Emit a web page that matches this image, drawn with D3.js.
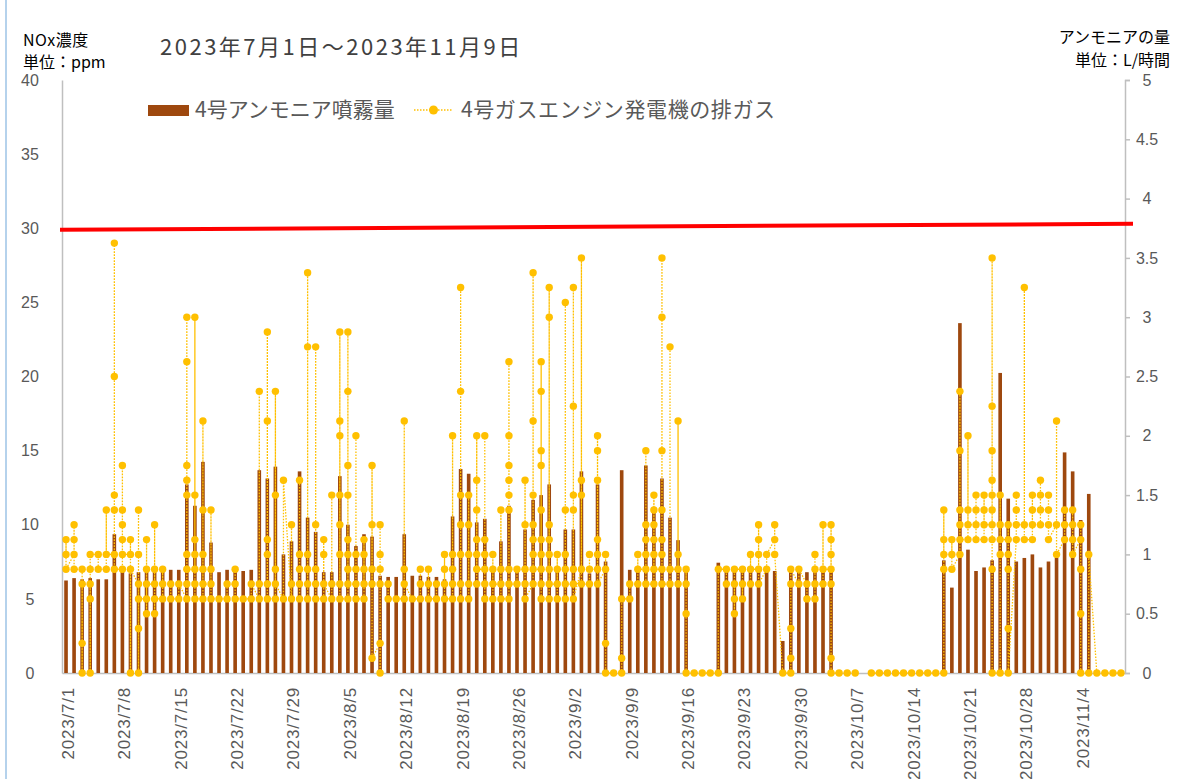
<!DOCTYPE html>
<html>
<head>
<meta charset="utf-8">
<script src="https://cdn.jsdelivr.net/npm/d3@7"></script>
<style>
  body { margin: 0; background: #fff; }
  svg { display: block; font-family: "Noto Sans CJK JP", "Noto Sans", sans-serif; }
</style>
</head>
<body>
<svg id="chart" width="1187" height="779"></svg>
<script>
// 2023/7/1 .. 2023/11/9
const startDay = new Date(2023, 6, 1)
const endDay = new Date(2023, 10, 10)
const days = d3.timeDay.range(startDay, endDay)
const dayLabels = days.map(d => d3.timeFormat("%Y/%-m/%-d")(d))
const tickEvery = 7

const leftTicks = [0, 5, 10, 15, 20, 25, 30, 35, 40]
const rightTicks = [0, 0.5, 1, 1.5, 2, 2.5, 3, 3.5, 4, 4.5, 5]

// 4号アンモニア噴霧量 (L/時間)
const ammonia = [
  0.78, 0.80, 0.79, 0.80, 0.79, 0.79, 1.17, 0.87, 0.84, 0.85,
  0.85, 0.85, 0.87, 0.87, 0.87, 1.59, 1.41, 1.78, 1.10, 0.85,
  0.87, 0.86, 0.86, 0.87, 1.71, 1.64, 1.74, 1.00, 1.11, 1.70,
  1.31, 1.19, 0.85, 0.85, 1.66, 1.25, 1.07, 1.17, 1.15, 0.82,
  0.81, 0.81, 1.17, 0.82, 0.82, 0.81, 0.81, 0.79, 1.32, 1.72,
  1.68, 1.27, 1.30, 0.87, 1.11, 1.41, 0.87, 1.21, 1.46, 1.50,
  1.59, 0.87, 1.21, 1.21, 1.70, 0.84, 1.59, 0.94, 0, 1.71,
  0.87, 0.87, 1.75, 1.37, 1.64, 1.31, 1.12, 0.87, 0, 0,
  0, 0.93, 0.87, 0.87, 0.87, 0.87, 0.87, 0.86, 0.86, 0.27,
  0.87, 0.87, 0.85, 0.87, 0.87, 0.87, 0, 0, 0, 0,
  0, 0, 0, 0, 0, 0, 0, 0, 0, 0.95,
  0.72, 2.95, 1.04, 0.86, 0.89, 0.95, 2.53, 1.47, 0.94, 0.97,
  1.00, 0.89, 0.94, 0.97, 1.86, 1.70, 1.29, 1.51, 0, 0,
  0, 0
]

// 4号ガスエンジン発電機の排ガス NOx (ppm), readings of each day in order
const noxReadings = [
  [8,9,7], [8,10,9,7], [7,0,2,6], [6,0,5,7,8], [8,7], [7,11,8],
  [8,29,20,12,11,7], [7,14,11,10,9,8], [8,9,0,7], [6,0,3,11,8,5],
  [5,9,7,4,6], [6,10,7,4,5], [5,7,6], [6,5], [5,6],
  [5,6,24,21,14,13,12,8,7], [7,24,12,9,8,6,5], [5,17,11,8,7,6], [6,11,7,5], [5],
  [5,6], [6,7,5], [5], [5,6], [5,19,6],
  [6,23,17,9,8,5], [5,19,12,7,6], [5,13], [5,10,6], [6,13,8,7,5],
  [5,27,22,8,7,6], [6,22,10,7,5], [5,9,8,6], [5,12,6], [6,23,17,16,12,10,8,5],
  [5,23,19,14,12,9,8,7,6], [6,16,8,7,5], [5,9,8,7,6], [6,14,10,7,1], [2,0,10,8,7,6],
  [6,5], [5], [5,17,7,6], [5], [5,7,6],
  [6,7,5], [5,6], [6,8,7,5], [5,16,8,7,6], [6,26,19,12,10,8,5],
  [5,12,10,8,6], [6,16,13,11,9,8,7], [7,16,9,8,6,5], [5,8,7,6], [6,11,7,5],
  [5,21,16,14,13,12,11,7,6], [6,7], [7,13,10,6,5], [6,27,17,12,10,9,8,7], [7,21,19,15,14,11,9,8,6,5],
  [5,26,24,10,9,8,7,6], [6,8,7,5], [5,25,11,8,7,6], [6,26,18,12,11,7,5], [7,28,13,12,6],
  [6,8,7], [7,16,15,13,9,8,6], [7,8,2,0], [0], [0,1,5],
  [5,6], [6,8,7], [7,15,10,9,8,6], [6,12,11,10,9,8,7], [7,28,24,15,11,9,8,6],
  [6,22,7], [7,17,8,6], [6,7,4,0], [0], [0],
  [0], [0,7], [7,6], [6,4,5,7], [7,5,6],
  [6,8,7], [7,10,9,8,6], [7,8], [9,10,8], [0],
  [0,1,3,6,7], [6,7], [6,5], [5,8,7,6], [6,10,7],
  [7,10,9,8,6,1,0], [0], [0], [0], [],
  [0], [0], [0], [0], [0],
  [0], [0], [0], [0], [0,7,11,9,8],
  [8,9,7], [8,19,15,11,10,9], [9,16,11,10], [10,12,11,9], [9,12,11,10],
  [10,28,18,15,13,12,11,9,7,0], [0,8,12,10,9], [9,10,8,7,3,0], [9,12,11,10], [10,26,9],
  [9,12,11,10], [10,13,12,11], [11,12,10,9], [10,17,8], [9,11,10],
  [10,11,9,8], [9,10,7,4,0], [0,8], [0], [0],
  [0], [0]
]

// 規制値 line (drawn slightly sloped in the original)
const limitLine = [29.9, 30.3]

const svg = d3.select("#chart")
const mLeft = 62, mRight = 1125, mTop = 80, mBottom = 673

const x = d3.scaleBand().domain(dayLabels).range([mLeft, mRight])
const yL = d3.scaleLinear().domain([0, 40]).range([mBottom, mTop])
const yR = d3.scaleLinear().domain([0, 5]).range([mBottom, mTop])
const cx = d => x(d) + x.bandwidth() / 2

// frame edge seen at the left of the screenshot
svg.append("line").attr("x1", 6).attr("x2", 6).attr("y1", 0).attr("y2", 779)
  .attr("stroke", "#9dc3e6").attr("stroke-width", 1.5)

// axes
const axL = svg.append("g").attr("transform", "translate(" + mLeft + ",0)")
  .call(d3.axisLeft(yL).tickValues(leftTicks).tickSize(0).tickPadding(0))
axL.select(".domain").attr("stroke", "#bfbfbf").attr("stroke-width", 1.5)
axL.selectAll("text").attr("x", 30 - mLeft).attr("text-anchor", "middle")
  .attr("fill", "#595959").style("font-size", "16px").style("font-family", "Liberation Sans, sans-serif")

const axR = svg.append("g").attr("transform", "translate(" + mRight + ",0)")
  .call(d3.axisRight(yR).tickValues(rightTicks).tickFormat(d => d).tickSize(5).tickSizeOuter(5))
axR.select(".domain").attr("stroke", "#bfbfbf").attr("stroke-width", 1.5)
axR.selectAll(".tick line").attr("stroke", "#bfbfbf").attr("stroke-width", 1.5)
axR.selectAll("text").attr("x", 1147 - mRight).attr("text-anchor", "middle")
  .attr("fill", "#595959").style("font-size", "16px").style("font-family", "Liberation Sans, sans-serif")

const axB = svg.append("g").attr("transform", "translate(0," + mBottom + ")")
  .call(d3.axisBottom(x).tickValues(dayLabels.filter((d, i) => i % tickEvery == 0)).tickSize(0).tickSizeOuter(0))
axB.select(".domain").attr("stroke", "#bfbfbf").attr("stroke-width", 1.5)
axB.selectAll("text")
  .attr("transform", "rotate(-90)")
  .attr("x", -14).attr("y", 2).attr("dy", "0.35em")
  .attr("text-anchor", "end")
  .attr("fill", "#595959").style("font-size", "17px").style("letter-spacing", "0.8px")
  .style("font-family", "Liberation Sans, sans-serif")

// bars
const barW = x.bandwidth() * 0.45
svg.append("g").selectAll("rect")
  .data(ammonia)
  .join("rect")
  .attr("x", (d, i) => cx(dayLabels[i]) - barW / 2)
  .attr("y", d => yR(d))
  .attr("width", barW)
  .attr("height", d => mBottom - yR(d))
  .attr("fill", "#9e480e")

// NOx readings flattened in time order, empty day breaks the line
const pts = []
noxReadings.forEach((vals, i) => {
  if (vals.length == 0) pts.push(null)
  vals.forEach(v => pts.push({ day: dayLabels[i], v: v }))
})

const line = d3.line()
  .defined(d => d != null)
  .x(d => cx(d.day))
  .y(d => yL(d.v))

svg.append("path")
  .datum(pts)
  .attr("d", line)
  .attr("fill", "none")
  .attr("stroke", "#ffc000")
  .attr("stroke-width", 1.3)
  .attr("stroke-dasharray", "1.5,1.5")

svg.append("g").selectAll("circle")
  .data(pts.filter(d => d != null))
  .join("circle")
  .attr("cx", d => cx(d.day))
  .attr("cy", d => yL(d.v))
  .attr("r", 3.7)
  .attr("fill", "#ffc000")

// red limit line
svg.append("line")
  .attr("x1", mLeft - 2).attr("x2", mRight + 8)
  .attr("y1", yL(limitLine[0])).attr("y2", yL(limitLine[1]))
  .attr("stroke", "#ff0000").attr("stroke-width", 4)

// titles and units
svg.append("text").attr("x", 160).attr("y", 55)
  .text("2023年7月1日～2023年11月9日")
  .attr("fill", "#404040").style("font-size", "22px").style("letter-spacing", "2.5px")

svg.append("text").attr("x", 23).attr("y", 46).text("NOx濃度")
  .attr("fill", "#000").style("font-size", "16px").style("letter-spacing", "0.5px")
svg.append("text").attr("x", 23).attr("y", 68).text("単位：ppm")
  .attr("fill", "#000").style("font-size", "16px")
svg.append("text").attr("x", 1170).attr("y", 43).text("アンモニアの量")
  .attr("text-anchor", "end").attr("fill", "#000").style("font-size", "16px")
svg.append("text").attr("x", 1170).attr("y", 66).text("単位：L/時間")
  .attr("text-anchor", "end").attr("fill", "#000").style("font-size", "16px")

// legend
const lg = svg.append("g").attr("transform", "translate(0,110)")
lg.append("rect").attr("x", 148).attr("y", -5).attr("width", 41).attr("height", 11).attr("fill", "#9e480e")
lg.append("text").attr("x", 195).attr("y", 0).attr("dy", "0.35em").text("4号アンモニア噴霧量")
  .attr("fill", "#595959").style("font-size", "21px")
lg.append("line").attr("x1", 414).attr("x2", 453).attr("y1", 0).attr("y2", 0)
  .attr("stroke", "#ffc000").attr("stroke-width", 1.3).attr("stroke-dasharray", "1.5,1.5")
lg.append("circle").attr("cx", 433.5).attr("cy", 0).attr("r", 4.5).attr("fill", "#ffc000")
lg.append("text").attr("x", 461).attr("y", 0).attr("dy", "0.35em").text("4号ガスエンジン発電機の排ガス")
  .attr("fill", "#595959").style("font-size", "21px").style("letter-spacing", "0.6px")
</script>
</body>
</html>
